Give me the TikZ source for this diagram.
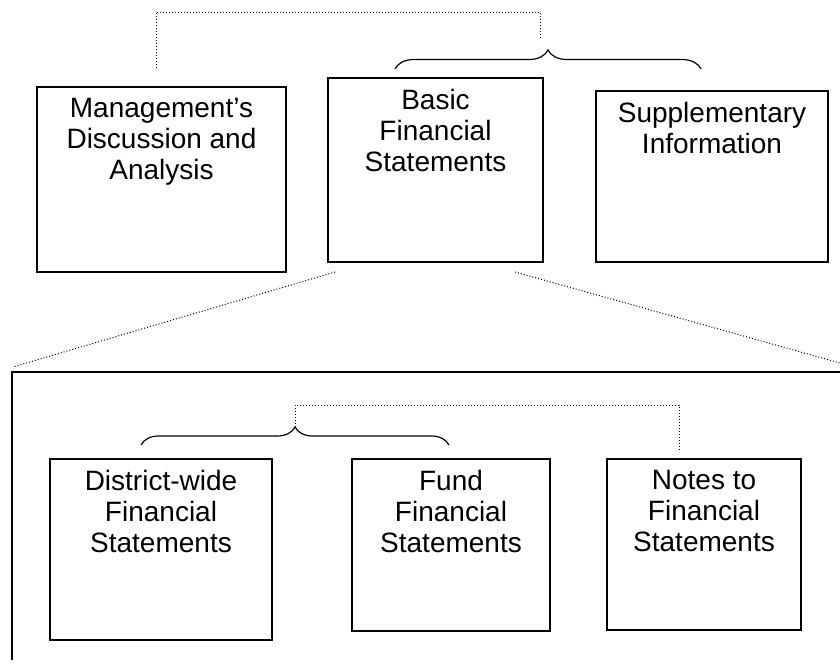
\documentclass[tikz,border=0pt]{standalone}
\usepackage{fontspec}
\setmainfont{Liberation Sans}
\usetikzlibrary{positioning,decorations.pathreplacing}

\begin{document}
\begin{tikzpicture}[x=0.5pt, y=-0.5pt,
		box/.style={draw, line width=1pt, inner sep=0pt},
		txt/.style={align=center, inner sep=0pt, font=\fontsize{14}{15.5}\selectfont},
		dotline/.style={line width=0.5pt, dash pattern=on 0.5pt off 1pt},
		curly/.style={decorate, decoration={brace, amplitude=9.5pt}, line width=0.6pt}]
	\useasboundingbox (0,0) rectangle (840,664);
	%\draw[help lines] (0,0) grid[step=40] (840,664);
	% upper row
	\node[box, minimum width=124.5pt, minimum height=92.5pt] (mda) at (161.5,179.5) {};
	\node[box, minimum width=107.5pt, minimum height=92pt] (basic) at (435.5,170) {};
	\node[box, minimum width=116pt, minimum height=85.5pt] (supp) at (712,176.5) {};
	\node[txt, below=6pt of mda.north] (mdaText) {Management’s\\Discussion and\\Analysis};
	\node[txt, below=6pt of basic.north] (basicText) {Basic\\Financial\\Statements};
	\node[txt, below=6pt of supp.north] (suppText) {Supplementary\\Information};
	% lower row
	\node[box, minimum width=111pt, minimum height=90.5pt] (district) at (161,549.5) {};
	\node[box, minimum width=99pt, minimum height=86pt] (fund) at (451,545) {};
	\node[box, minimum width=97pt, minimum height=85.5pt] (notes) at (704,544.5) {};
	\foreach \b/\t in {district/District-wide, fund/Fund, notes/Notes to}{
		\node[txt, below=6pt of \b.north] (\b Text) {\t\\Financial\\Statements};
	}
	% braces and dotted brackets
	\coordinate (topL) at (395,69);
	\coordinate (topR) at (701,69);
	\coordinate (mdaTop) at (156,68);
	\coordinate (barTop) at (540,12);
	\coordinate (topTip) at (540,38);
	\draw[curly] (topL) -- (topR);
	\draw[dotline] (mdaTop) |- (barTop) -- (topTip);
	\coordinate (lowL) at (141,445);
	\coordinate (lowR) at (449,445);
	\coordinate (lowTip) at (295,427);
	\coordinate (barLow) at (679,405);
	\coordinate (notesTop) at (679,452);
	\draw[curly, decoration={amplitude=9pt}] (lowL) -- (lowR);
	\draw[dotline] (lowTip) |- (barLow) -- (notesTop);
	% frame with the zoom lines
	\coordinate (frameNW) at (12,372);
	\draw[line width=1pt] (12,660) -- (frameNW) -- (840,372);
	\coordinate (zoomL) at (335,272);
	\coordinate (zoomR) at (515,272);
	\coordinate (frameL) at (13,367);
	\coordinate (frameR) at (840,363);
	\draw[dotline] (zoomL) -- (frameL);
	\draw[dotline] (zoomR) -- (frameR);
\end{tikzpicture}
\end{document}
